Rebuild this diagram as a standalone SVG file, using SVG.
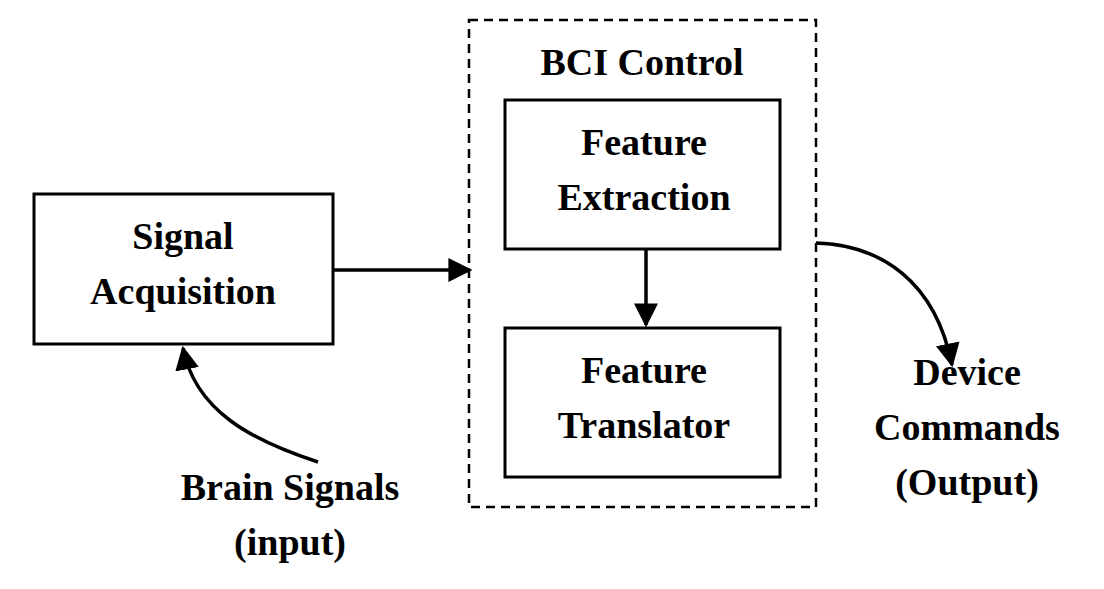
<svg xmlns="http://www.w3.org/2000/svg" width="1104" height="589" viewBox="0 0 1104 589">
<style>
.b{fill:#fff;stroke:#000;stroke-width:3}
.t{font-family:"Liberation Serif",serif;font-weight:bold;font-size:38px;text-anchor:middle;fill:#000}
.c{fill:none;stroke:#000;stroke-width:3.5}
</style>
<defs><marker id="a" markerWidth="8" markerHeight="8" refX="7" refY="4" orient="auto" markerUnits="userSpaceOnUse" viewBox="0 0 8 8"><path d="M0,0L8,4L0,8z"/></marker>
<marker id="h" viewBox="0 0 10 10" refX="9" refY="5" markerWidth="24" markerHeight="24" markerUnits="userSpaceOnUse" orient="auto"><path d="M0,0L10,5L0,10z"/></marker></defs>
<rect width="1104" height="589" fill="#fff"/>
<g id="bci"><rect x="469" y="20" width="347" height="487" fill="none" stroke="#000" stroke-width="2.5" stroke-dasharray="9,6"/><text class="t" x="642" y="75">BCI Control</text></g>
<g id="sig"><rect class="b" x="34" y="194" width="299" height="150"/><text class="t" x="183" y="249">Signal</text><text class="t" x="183" y="304">Acquisition</text></g>
<g id="fe"><rect class="b" x="505" y="100" width="275" height="149"/><text class="t" x="644" y="155">Feature</text><text class="t" x="644" y="210">Extraction</text></g>
<g id="ft"><rect class="b" x="505" y="328" width="275" height="149"/><text class="t" x="644" y="383">Feature</text><text class="t" x="644" y="438">Translator</text></g>
<g id="in"><text class="t" x="290" y="500">Brain Signals</text><text class="t" x="290" y="555">(input)</text></g>
<g id="out"><text class="t" x="967" y="385">Device</text><text class="t" x="967" y="440">Commands</text><text class="t" x="967" y="495">(Output)</text></g>
<g id="conn">
<path class="c" d="M333,270H470" marker-end="url(#h)"/>
<path class="c" d="M646,250V325" marker-end="url(#h)"/>
<path class="c" d="M816,243C880,245 935,280 952,365" marker-end="url(#h)"/>
<path class="c" d="M318,462C250,440 195,410 183,348" marker-end="url(#h)"/>
</g>
</svg>
